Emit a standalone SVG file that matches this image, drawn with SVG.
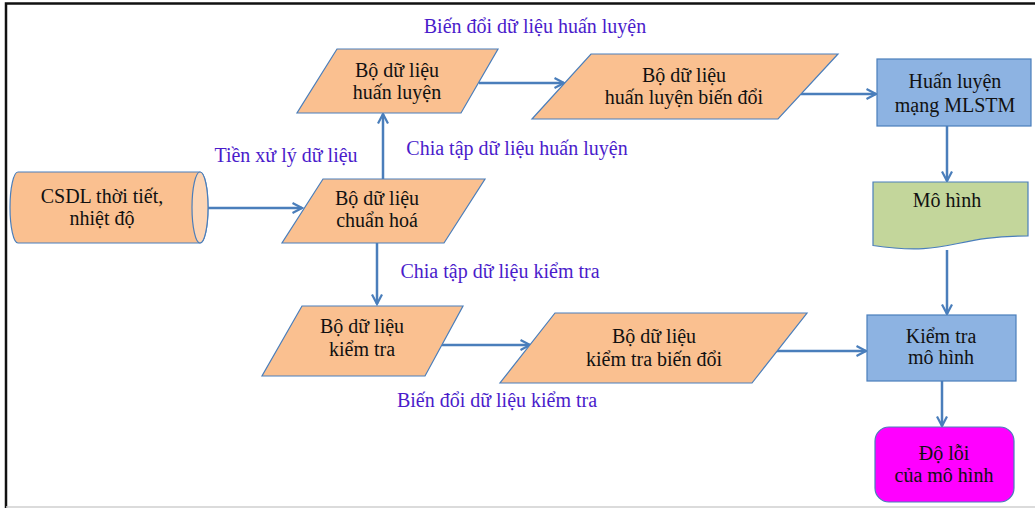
<svg xmlns="http://www.w3.org/2000/svg" width="1035" height="508" viewBox="0 0 1035 508">
  <defs>
    <marker id="arr" viewBox="0 0 12 12" refX="10.5" refY="6" markerWidth="12" markerHeight="12" markerUnits="userSpaceOnUse" orient="auto">
      <path d="M1,1 L10.5,6 L1,11" fill="none" stroke="#4A7EBB" stroke-width="2.2"/>
    </marker>
    <style>
      .lbl { font-family: "Liberation Serif", "Times New Roman", serif; font-size: 20px; fill: #4A1CCB; }
      .txt { font-family: "Liberation Serif", "Times New Roman", serif; font-size: 20px; fill: #111; text-anchor: middle; }
      .data { fill: #FAC090; stroke: #4A7EBB; stroke-width: 1.2; }
      .proc { fill: #8DB3E2; stroke: #4A7EBB; stroke-width: 1.2; }
      .conn path { fill: none; stroke: #4A7EBB; stroke-width: 2.5; marker-end: url(#arr); }
    </style>
  </defs>

  <rect width="1035" height="508" fill="#fff"/>
  <!-- frame -->
  <path d="M6,508 V3.5 H1035" fill="none" stroke="#111" stroke-width="2.5"/>
  <line x1="6" y1="507" x2="1035" y2="507" stroke="#cfcfcf" stroke-width="1.5"/>

  <!-- connectors -->
  <g id="connectors" class="conn">
    <path d="M208,208 H302"/>
    <path d="M383,179 V114"/>
    <path d="M377,243 V304"/>
    <path d="M479,83 H564"/>
    <path d="M801,94 H876"/>
    <path d="M947,126 V181"/>
    <path d="M947,250 V314"/>
    <path d="M442,345 H530"/>
    <path d="M776,351 H866"/>
    <path d="M942,381 V426"/>
  </g>

  <!-- edge labels -->
  <g id="labels">
    <text class="lbl" x="535" y="33" text-anchor="middle">Biến đổi dữ liệu huấn luyện</text>
    <text class="lbl" x="286" y="162" text-anchor="middle">Tiền xử lý dữ liệu</text>
    <text class="lbl" x="517" y="155" text-anchor="middle">Chia tập dữ liệu huấn luyện</text>
    <text class="lbl" x="500" y="278" text-anchor="middle">Chia tập dữ liệu kiểm tra</text>
    <text class="lbl" x="497" y="407" text-anchor="middle">Biến đổi dữ liệu kiểm tra</text>
  </g>

  <!-- database -->
  <g id="csdl">
    <path d="M18,172 H200 A8,35.5 0 0 1 200,243 H18 A8,35.5 0 0 1 18,172 Z" fill="#FAC090" stroke="#4A7EBB" stroke-width="1.2"/>
    <ellipse cx="200" cy="207.5" rx="8" ry="35.5" fill="#FCD5B5" stroke="#4A7EBB" stroke-width="1.2"/>
    <text class="txt" x="102" y="203">CSDL thời tiết,</text>
    <text class="txt" x="102" y="225">nhiệt độ</text>
  </g>

  <g id="chuan-hoa">
    <polygon class="data" points="323,179 485,179 444,243 282,243"/>
    <text class="txt" x="377" y="205">Bộ dữ liệu</text>
    <text class="txt" x="377" y="227">chuẩn hoá</text>
  </g>

  <g id="huan-luyen">
    <polygon class="data" points="337,49 498,49 461,113 297,113"/>
    <text class="txt" x="397" y="77">Bộ dữ liệu</text>
    <text class="txt" x="397" y="99">huấn luyện</text>
  </g>

  <g id="huan-luyen-bien-doi">
    <polygon class="data" points="591,54 838,54 778,119 532,119"/>
    <text class="txt" x="684" y="82">Bộ dữ liệu</text>
    <text class="txt" x="684" y="104">huấn luyện biến đổi</text>
  </g>

  <g id="kiem-tra">
    <polygon class="data" points="302,306 463,306 425,376 262,376"/>
    <text class="txt" x="362" y="333">Bộ dữ liệu</text>
    <text class="txt" x="362" y="356">kiểm tra</text>
  </g>

  <g id="kiem-tra-bien-doi">
    <polygon class="data" points="555,313 807,313 752,383 500,383"/>
    <text class="txt" x="654" y="343">Bộ dữ liệu</text>
    <text class="txt" x="654" y="366">kiểm tra biến đổi</text>
  </g>

  <g id="huan-luyen-mlstm">
    <rect class="proc" x="877" y="59" width="154" height="67"/>
    <text class="txt" x="955" y="88">Huấn luyện</text>
    <text class="txt" x="955" y="112">mạng MLSTM</text>
  </g>

  <g id="mo-hinh">
    <path d="M873,182 H1028 V236 C950,236 950,257 873,245.5 Z" fill="#C3D69B" stroke="#4A7EBB" stroke-width="1.2"/>
    <text class="txt" x="947" y="207">Mô hình</text>
  </g>

  <g id="kiem-tra-mo-hinh">
    <rect class="proc" x="867" y="315" width="149" height="66"/>
    <text class="txt" x="941" y="343">Kiểm tra</text>
    <text class="txt" x="941" y="364">mô hình</text>
  </g>

  <g id="do-loi">
    <rect x="875" y="427" width="139" height="75" rx="14" fill="#FF00FF" stroke="#4A7EBB" stroke-width="1.2"/>
    <text class="txt" x="944" y="460">Độ lỗi</text>
    <text class="txt" x="944" y="482">của mô hình</text>
  </g>
</svg>
